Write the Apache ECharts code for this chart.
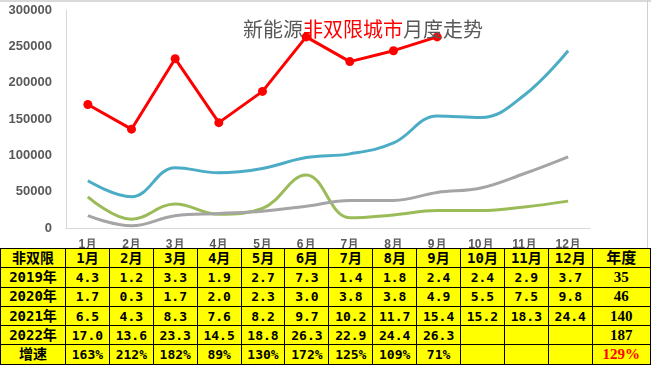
<!DOCTYPE html>
<html>
<head>
<meta charset="utf-8">
<script src="https://cdn.jsdelivr.net/npm/echarts@6/dist/echarts.min.js"></script>
<style>
html,body{margin:0;padding:0;background:#fff;}
#wrap{position:relative;width:651px;height:366px;overflow:hidden;}
#chart{position:absolute;left:0;top:0;width:651px;height:366px;}
#tbl{position:absolute;left:0;top:248px;border-collapse:collapse;table-layout:fixed;background:#FFFF00;z-index:5;}
#tbl td{border:1px solid #000;height:18.3px;padding:0;text-align:center;vertical-align:middle;
  font-family:"DejaVu Sans Mono","Noto Sans CJK SC",monospace;font-weight:bold;font-size:13px;color:#000;line-height:17px;white-space:nowrap;overflow:hidden;}
#tbl td.h{font-family:"DejaVu Sans Mono","Noto Sans CJK SC",sans-serif;font-size:14px;}
#tbl td.y{font-family:"Liberation Serif","Noto Sans CJK SC",serif;font-size:15px;}
#tbl td.red{color:#FF0000;}
#topline{position:absolute;left:0;top:0;width:651px;height:2px;background:#d9d9d9;}
#rline{position:absolute;left:647px;top:0;width:1px;height:248px;background:#d0d0d0;}
</style>
</head>
<body>
<div id="wrap">
<div id="chart"></div>
<div id="topline"></div>
<div id="rline"></div>
<table id="tbl"></table>
</div>
<script>
// ---- data ----
var months = ['1月','2月','3月','4月','5月','6月','7月','8月','9月','10月','11月','12月'];
var yearLabels = ['2019年','2020年','2021年','2022年'];
var v2019 = ['4.3','1.2','3.3','1.9','2.7','7.3','1.4','1.8','2.4','2.4','2.9','3.7'];
var v2020 = ['1.7','0.3','1.7','2.0','2.3','3.0','3.8','3.8','4.9','5.5','7.5','9.8'];
var v2021 = ['6.5','4.3','8.3','7.6','8.2','9.7','10.2','11.7','15.4','15.2','18.3','24.4'];
var v2022 = ['17.0','13.6','23.3','14.5','18.8','26.3','22.9','24.4','26.3'];
var growth = ['163%','212%','182%','89%','130%','172%','125%','109%','71%'];
var yearTotals = ['35','46','140','187'];
var growthTotal = '129%';
var yTicks = [0,50000,100000,150000,200000,250000,300000];

function toSeries(arr){ return arr.map(function(s){ return parseFloat(s)*10000; }); }

// ---- chart ----
var chart = echarts.init(document.getElementById('chart'));
var lineW = 3;
chart.setOption({
  animation:false,
  backgroundColor:'#fff',
  title:{
    left:238, top:14,
    text:'{g|新能源}{r|非双限城市}{g|月度走势}',
    textStyle:{fontWeight:'normal',rich:{
      g:{fontSize:20,color:'#595959',fontWeight:'normal',fontFamily:'Noto Sans CJK SC'},
      r:{fontSize:20,color:'#FF0000',fontWeight:'normal',fontFamily:'Noto Sans CJK SC'}
    }}
  },
  grid:{left:66,right:61,top:10,bottom:138},
  xAxis:{
    type:'category', data:months, boundaryGap:true,
    axisLine:{lineStyle:{color:'#D9D9D9',width:1}},
    axisTick:{show:false},
    axisLabel:{color:'#595959',fontSize:12,fontWeight:'bold',margin:11,fontFamily:'Liberation Sans'}
  },
  yAxis:{
    type:'value', min:yTicks[0], max:yTicks[yTicks.length-1], interval:50000,
    axisLine:{show:true,lineStyle:{color:'#D9D9D9'}},
    axisTick:{show:false},
    splitLine:{show:false},
    axisLabel:{color:'#595959',fontSize:13,fontWeight:'bold',margin:14,fontFamily:'Liberation Sans',
      formatter:function(v){ return String(v); }}
  },
  series:[
    {name:'2019',type:'line',data:toSeries(v2019),smooth:0.4,symbol:'none',lineStyle:{color:'#9BBB59',width:lineW}},
    {name:'2020',type:'line',data:toSeries(v2020),smooth:0.4,symbol:'none',lineStyle:{color:'#A5A5A5',width:lineW}},
    {name:'2021',type:'line',data:toSeries(v2021),smooth:0.4,symbol:'none',lineStyle:{color:'#4BACC6',width:lineW}},
    {name:'2022',type:'line',data:toSeries(v2022),smooth:false,symbol:'circle',symbolSize:9,
      itemStyle:{color:'#FF0000'},lineStyle:{color:'#FF0000',width:lineW}}
  ]
});

// ---- table ----
var tbl = document.getElementById('tbl');
var colW = [65].concat(months.map(function(){return 43.9;})).concat([58.2]);
var cg = document.createElement('colgroup');
colW.forEach(function(w){ var c=document.createElement('col'); c.style.width=w+'px'; cg.appendChild(c); });
tbl.appendChild(cg);
tbl.style.width = colW.reduce(function(a,b){return a+b;},0)+'px';

function addRow(first, vals, last, lastRed){
  var tr = document.createElement('tr');
  var td = document.createElement('td'); td.className='h'; td.textContent=first; tr.appendChild(td);
  for (var i=0;i<12;i++){
    var c=document.createElement('td'); c.textContent = vals[i]!==undefined ? vals[i] : ''; tr.appendChild(c);
  }
  var l=document.createElement('td'); l.className='y'+(lastRed?' red':''); l.textContent=last; tr.appendChild(l);
  tbl.appendChild(tr);
  return tr;
}
var hr = addRow('非双限', months, '年度', false);
Array.prototype.forEach.call(hr.children,function(c,i){ if(i>0 && i<13) c.className='h'; });
addRow(yearLabels[0], v2019, yearTotals[0]);
addRow(yearLabels[1], v2020, yearTotals[1]);
addRow(yearLabels[2], v2021, yearTotals[2]);
addRow(yearLabels[3], v2022, yearTotals[3]);
addRow('增速', growth, growthTotal, true);
</script>
</body>
</html>
